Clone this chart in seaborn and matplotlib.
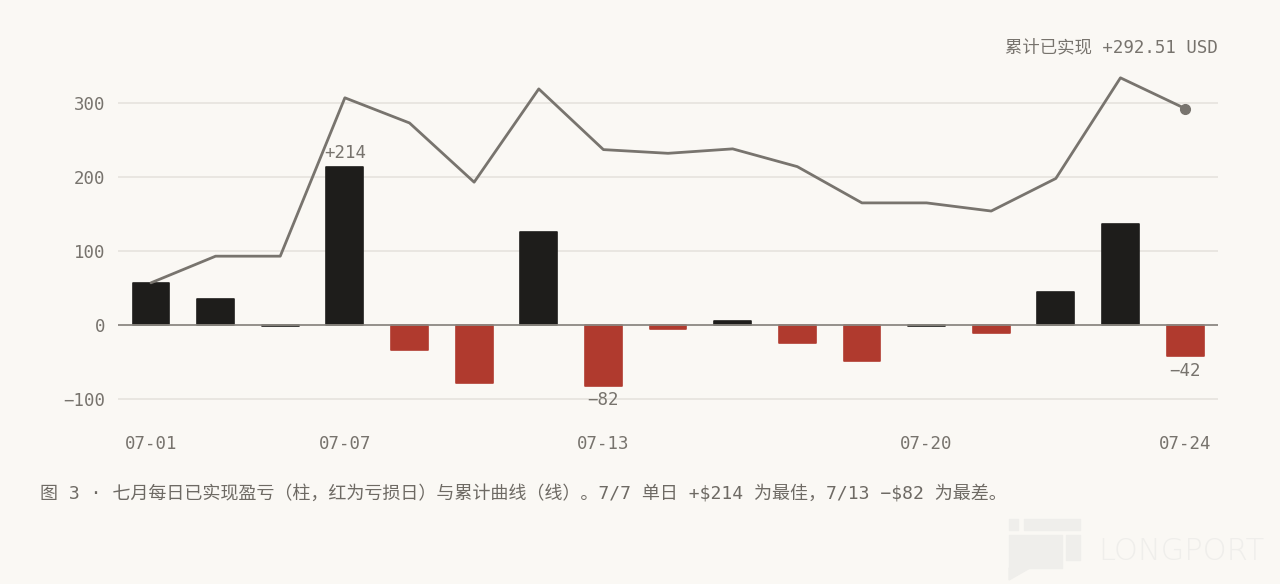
import numpy as np
import pandas as pd
import matplotlib
matplotlib.use("Agg")
import matplotlib.pyplot as plt
import seaborn as sns
from matplotlib.patches import Rectangle, Polygon

# ---- data ----
dates = ["07-01", "07-02", "07-03", "07-07", "07-08", "07-09", "07-10", "07-13",
         "07-14", "07-15", "07-16", "07-17", "07-20", "07-21", "07-22", "07-23", "07-24"]
daily_pnl = [57, 35, -2, 214, -34, -79, 126, -82, -5, 6, -24, -48, -2, -11, 44, 136, -42]
bar_kind = ["gain", "gain", "flat", "gain", "loss", "loss", "gain", "loss",
            "loss", "gain", "loss", "loss", "flat", "loss", "gain", "gain", "loss"]
cumulative = [57, 93, 93, 307, 273, 193, 319, 237, 232, 238, 214, 165, 165, 154, 198, 334, 292.51]
tick_dates = ["07-01", "07-07", "07-13", "07-20", "07-24"]
y_ticks = [-100, 0, 100, 200, 300]
header = "累计已实现 +292.51 USD"
caption = "图 3 · 七月每日已实现盈亏（柱，红为亏损日）与累计曲线（线）。7/7 单日 +\\$214 为最佳，7/13 −\\$82 为最差。"
watermark = "LONGPORT"

BG = "#faf8f4"
DARK = "#1e1d1b"
RED = "#b03a2e"
LINE = "#78746e"
TXT = "#77736d"
GRID = "#e4e1dc"

sns.set_theme(style="white")
plt.rcParams["font.family"] = ["DejaVu Sans Mono", "Noto Sans CJK SC"]
plt.rcParams["axes.unicode_minus"] = True

df = pd.DataFrame({"date": dates, "pnl": daily_pnl, "kind": bar_kind})

fig = plt.figure(figsize=(12.8, 5.84), dpi=100, facecolor=BG)
ax = fig.add_axes([0.0922, 0.2724, 0.8594, 0.6273])
ax.set_facecolor(BG)

for y in y_ticks:
    if y != 0:
        ax.axhline(y, color=GRID, lw=1.1, zorder=0)

sns.barplot(data=df, x="date", y="pnl", hue="kind", order=dates,
            palette={"gain": DARK, "flat": DARK, "loss": RED}, dodge=False, legend=False,
            saturation=1, width=0.57, ax=ax, zorder=2, linewidth=0)
for p in ax.patches:
    p.set_joinstyle("round")
    p.set_edgecolor(p.get_facecolor())
    p.set_linewidth(1.2)

ax.axhline(0, color="#8c8882", lw=1.3, zorder=3)

xpos = np.arange(len(dates))
sns.lineplot(x=xpos, y=cumulative, color=LINE, lw=2.0, ax=ax, zorder=4)
ax.plot([xpos[-1]], [cumulative[-1]], "o", color=LINE, ms=7, zorder=5)

# value labels
i_best = int(np.argmax(daily_pnl))
i_worst = int(np.argmin(daily_pnl))
i_last = len(daily_pnl) - 1
def fmt(v):
    return ("+" if v > 0 else "−") + f"{abs(v)}"
ax.annotate(fmt(daily_pnl[i_best]), (i_best, daily_pnl[i_best]), xytext=(0, 3),
            textcoords="offset points", ha="center", va="bottom", color=TXT, fontsize=12.5, zorder=6)
for i in (i_worst, i_last):
    ax.annotate(fmt(daily_pnl[i]), (i, daily_pnl[i]), xytext=(0, -4),
                textcoords="offset points", ha="center", va="top", color=TXT, fontsize=12.5, zorder=6)

ax.set_xlim(-0.51, len(dates) - 0.49)
ax.set_ylim(-135, 360)
ax.set_xticks([dates.index(d) for d in tick_dates])
ax.set_xticklabels(tick_dates)
ax.set_yticks(y_ticks)
ax.set_yticklabels([("−" + str(-v)) if v < 0 else str(v) for v in y_ticks])
ax.tick_params(axis="x", length=0, pad=7, labelsize=12.5, labelcolor=TXT)
ax.tick_params(axis="y", length=0, pad=9, labelsize=12.5, labelcolor=TXT)
ax.set_xlabel("")
ax.set_ylabel("")
for s in ax.spines.values():
    s.set_visible(False)

fig.text(0.9516, 0.9195, header, ha="right", va="center", color=TXT, fontsize=12.5)
fig.text(0.03125, 0.154, caption, ha="left", va="center", color="#6e6a64", fontsize=13)

# watermark
wm = "#efeeeb"
W, H = 1280, 584
def frect(x0, y0, x1, y1):
    fig.patches.append(Rectangle((x0 / W, 1 - y1 / H), (x1 - x0) / W, (y1 - y0) / H,
                                 transform=fig.transFigure, color=wm, zorder=0))
frect(1009, 519, 1018, 530)
frect(1024, 519, 1080, 530)
frect(1009, 535, 1062, 568)
frect(1066, 535, 1080, 560)
fig.patches.append(Polygon([(1009 / W, 1 - 568 / H), (1009 / W, 1 - 580 / H), (1030 / W, 1 - 568 / H)],
                           closed=True, transform=fig.transFigure, color=wm, zorder=0))
fig.text(1264 / W, 1 - 552 / H, watermark, ha="right", va="center", color=wm,
         fontsize=22, family="DejaVu Sans", fontweight="light")

fig.savefig("out.png", dpi=100, facecolor=BG)
